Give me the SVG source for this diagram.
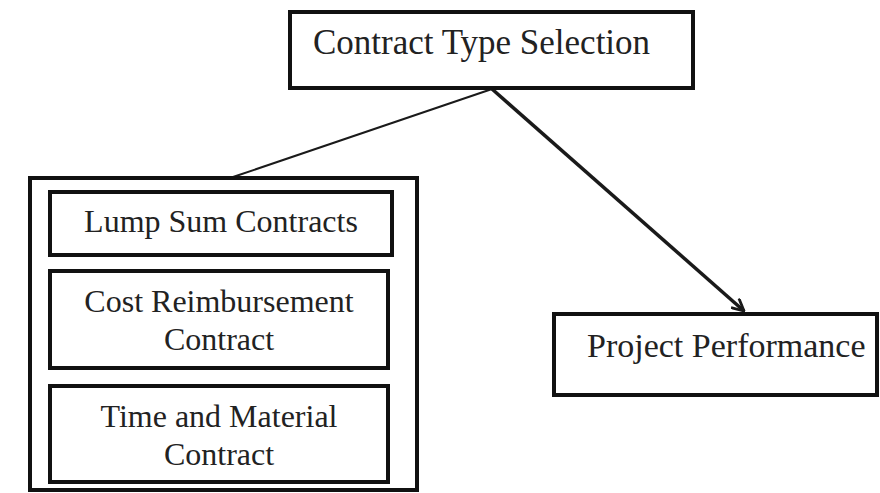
<svg xmlns="http://www.w3.org/2000/svg" width="880" height="493" viewBox="0 0 880 493">
  <style>
    .box { fill: #ffffff; stroke: #111111; stroke-width: 4; }
    .label { font-family: "Liberation Serif", "Times New Roman", serif; fill: #222222; }
    .big { font-size: 34px; }
    .title { font-size: 35px; }
    .small { font-size: 32px; }
    .link { fill: none; stroke: #1a1a1a; }
  </style>
  <defs>
    <marker id="chevron" viewBox="0 0 14 14" refX="13" refY="7" markerWidth="14" markerHeight="14" markerUnits="userSpaceOnUse" orient="auto">
      <polyline points="1,1 13,7 1,13" fill="none" stroke="#1a1a1a" stroke-width="2.8"/>
    </marker>
  </defs>
  <rect width="880" height="493" fill="#ffffff"/>

  <g id="connectors">
    <line class="link" x1="492" y1="89" x2="233" y2="177" stroke-width="2"/>
    <line class="link" x1="492" y1="89" x2="744" y2="311" stroke-width="3.5" marker-end="url(#chevron)"/>
  </g>

  <g id="contract-type-selection">
    <rect class="box" x="290" y="12" width="403" height="76"/>
    <text class="label title" x="313" y="54">Contract Type Selection</text>
  </g>

  <g id="contract-types">
    <rect class="box" x="30" y="178" width="387" height="312"/>
  </g>

  <g id="lump-sum">
    <rect class="box" x="50" y="192" width="342" height="63"/>
    <text class="label small" x="221" y="232" text-anchor="middle">Lump Sum Contracts</text>
  </g>

  <g id="cost-reimbursement">
    <rect class="box" x="50" y="271" width="338" height="97"/>
    <text class="label small" x="219" y="312" text-anchor="middle">Cost Reimbursement</text>
    <text class="label small" x="219" y="350" text-anchor="middle">Contract</text>
  </g>

  <g id="time-material">
    <rect class="box" x="50" y="386" width="338" height="96"/>
    <text class="label small" x="219" y="427" text-anchor="middle">Time and Material</text>
    <text class="label small" x="219" y="465" text-anchor="middle">Contract</text>
  </g>

  <g id="project-performance">
    <rect class="box" x="554" y="314" width="323" height="81"/>
    <text class="label big" x="587" y="357">Project Performance</text>
  </g>
</svg>
